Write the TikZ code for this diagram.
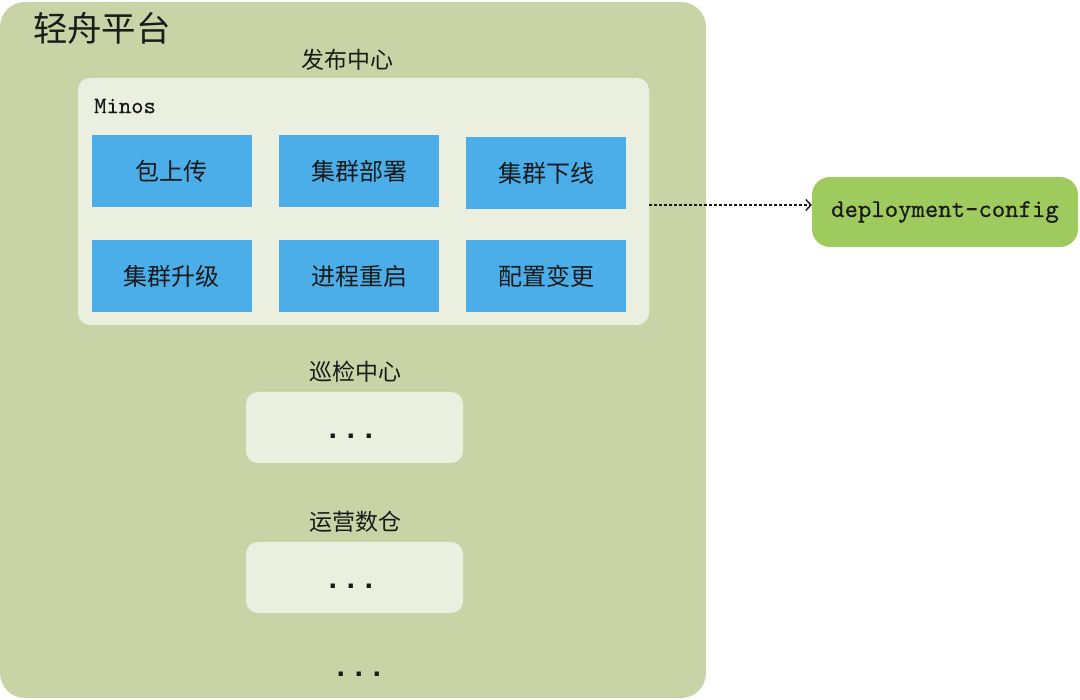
\documentclass[tikz,border=0pt]{standalone}
\usepackage{fontspec}
\newfontfamily\cjk{Noto Sans CJK SC}
\newfontfamily\dotfont{Liberation Mono}
\newfontfamily\mono{lmmono10-regular.otf}[FakeBold=0.6]
\usetikzlibrary{arrows.meta}
\definecolor{outergreen}{HTML}{C8D4A5}
\definecolor{innerpale}{HTML}{EBEFDF}
\definecolor{cellblue}{HTML}{4BAEE8}
\definecolor{cfggreen}{HTML}{9FCB5E}
\definecolor{ink}{HTML}{1A1A1A}
\tikzset{
  outerbox/.style={fill=outergreen, draw=none, rounded corners=25pt, minimum width=706pt, minimum height=696pt, inner sep=0pt},
  panel/.style={fill=innerpale, draw=none, rounded corners=12pt, inner sep=0pt},
  cell/.style={fill=cellblue, draw=none, minimum width=160pt, minimum height=72pt, inner sep=0pt, text=ink, font=\cjk\fontsize{24}{28}\selectfont},
  cfgbox/.style={fill=cfggreen, draw=none, rounded corners=18pt, minimum width=266pt, minimum height=70pt, inner sep=0pt, text=ink, font=\mono\fontsize{25.5}{30}\selectfont},
  seclabel/.style={text=ink, inner sep=0pt, font=\cjk\fontsize{23}{27}\selectfont},
  dots/.style={text=ink, inner sep=0pt, anchor=base, font=\dotfont\bfseries\fontsize{30}{34}\selectfont},
  dotarrow/.style={draw=ink, line width=1.4pt, dash pattern=on 3pt off 2pt, -{Straight Barb[length=5pt,width=11pt,line width=1.4pt]}}
}
\begin{document}
\begin{tikzpicture}[x=1pt,y=-1pt]
\useasboundingbox (0,0) rectangle (1080,700);
\node[outerbox] (platform) at (353,350) {};
\node[text=ink, inner sep=0pt, font=\cjk\fontsize{34.5}{40}\selectfont] (title) at (102,28) {轻舟平台};
\node[seclabel] (pubt) at (347,60) {发布中心};
\node[panel, minimum width=571pt, minimum height=247pt] (minos) at (363.5,201.5) {};
\node[text=ink, inner sep=0pt, anchor=west, font=\mono\fontsize{23.5}{28}\selectfont] (minost) at (94,106) {Minos};
\node[cell] (c1) at (171.5,171) {包上传};
\node[cell] (c2) at (359,171) {集群部署};
\node[cell] (c3) at (546,173) {集群下线};
\node[cell] (c4) at (171.5,276) {集群升级};
\node[cell] (c5) at (359,276) {进程重启};
\node[cell] (c6) at (546,276) {配置变更};
\node[cfgbox] (cfg) at (945,212) {deployment-config};
\draw[dotarrow] ([yshift=-3.5pt]minos.east) -- ([yshift=7pt]cfg.west);
\node[seclabel] (inspt) at (355,372) {巡检中心};
\node[panel, minimum width=217pt, minimum height=71pt] (insp) at (354.5,427.5) {};
\node[dots] (inspd) at (351,439) {...};
\node[seclabel] (opst) at (355,522) {运营数仓};
\node[panel, minimum width=217pt, minimum height=71pt] (ops) at (354.5,577.5) {};
\node[dots] (opsd) at (351,589) {...};
\node[dots] (more) at (359,676) {...};
\end{tikzpicture}
\end{document}
